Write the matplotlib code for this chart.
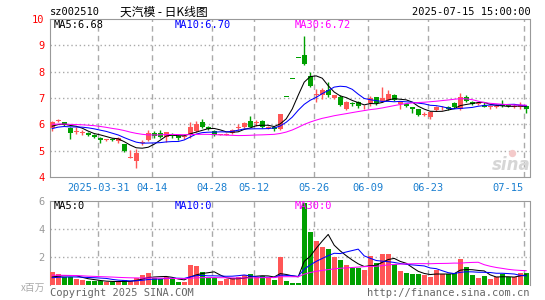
import numpy as np
import pandas as pd
import matplotlib
matplotlib.use("Agg")
from matplotlib import pyplot as plt
from matplotlib.transforms import ScaledTranslation

plt.rcParams['font.family'] = ['DejaVu Sans Mono', 'Noto Sans CJK SC']

# trading days 2025-03-19 .. 2025-07-15
dates = ['03-19', '03-20', '03-21', '03-24', '03-25', '03-26', '03-27', '03-28', '03-31',
         '04-01', '04-02', '04-03', '04-07', '04-08', '04-09', '04-10', '04-11',
         '04-14', '04-15', '04-16', '04-17', '04-18', '04-21', '04-22', '04-23', '04-24', '04-25',
         '04-28', '04-29', '04-30', '05-06', '05-07', '05-08', '05-09',
         '05-12', '05-13', '05-14', '05-15', '05-16', '05-19', '05-20', '05-21', '05-22', '05-23',
         '05-26', '05-27', '05-28', '05-29', '05-30', '06-03', '06-04', '06-05', '06-06',
         '06-09', '06-10', '06-11', '06-12', '06-13', '06-16', '06-17', '06-18', '06-19', '06-20',
         '06-23', '06-24', '06-25', '06-26', '06-27', '06-30', '07-01', '07-02', '07-03', '07-04',
         '07-07', '07-08', '07-09', '07-10', '07-11', '07-14', '07-15']

opens = [5.85, 6.13, 6.08, 5.87, 5.70, 5.66, 5.68, 5.60, 5.50, 5.40, 5.45, 5.36, 5.24, 4.74, 4.62, 5.28, 5.40,
         5.68, 5.68, 5.52, 5.63, 5.55, 5.52, 5.60, 5.74, 6.07, 5.90, 5.75, 5.60, 5.60, 5.66, 5.86, 5.88, 6.13,
         6.06, 6.13, 5.86, 5.90, 5.82, 7.04, 7.74, 8.52, 8.62, 7.83, 7.10, 7.10, 7.30, 7.00, 7.04, 6.60, 6.80,
         6.83, 6.64, 6.80, 7.02, 6.88, 6.92, 7.13, 6.77, 6.77, 6.64, 6.58, 6.37, 6.26, 6.54, 6.58, 6.64, 6.82,
         6.58, 7.05, 6.84, 6.76, 6.72, 6.64, 6.65, 6.78, 6.74, 6.66, 6.64, 6.70]
highs = [6.12, 6.20, 6.10, 5.90, 5.90, 5.78, 5.72, 5.64, 5.52, 5.46, 5.48, 5.52, 5.27, 5.02, 5.05, 5.42, 5.78,
         5.75, 5.78, 5.72, 5.66, 5.58, 5.62, 6.10, 6.12, 6.20, 5.92, 5.77, 5.65, 5.68, 5.82, 6.00, 6.08, 6.30,
         6.15, 6.16, 5.92, 5.92, 6.40, 7.04, 7.74, 8.52, 9.37, 7.99, 7.36, 7.37, 7.60, 7.12, 7.10, 6.87, 6.85,
         6.88, 6.72, 7.08, 7.05, 7.40, 7.30, 7.15, 6.90, 6.80, 6.66, 6.60, 6.45, 6.50, 6.70, 6.68, 6.68, 6.84,
         7.20, 7.10, 6.88, 6.86, 6.86, 6.74, 6.76, 6.92, 6.78, 6.76, 6.86, 6.74]
lows = [5.75, 6.08, 5.95, 5.43, 5.64, 5.60, 5.55, 5.48, 5.28, 5.38, 5.36, 5.30, 4.95, 4.72, 4.34, 5.20, 5.35,
        5.50, 5.50, 5.34, 5.50, 5.42, 5.45, 5.50, 5.70, 5.86, 5.78, 5.56, 5.58, 5.58, 5.64, 5.80, 5.86, 5.88,
        5.95, 5.85, 5.84, 5.76, 5.80, 7.04, 7.74, 8.52, 8.25, 7.42, 6.85, 6.98, 7.03, 6.98, 6.68, 6.55, 6.70,
        6.62, 6.60, 6.70, 6.72, 6.85, 6.90, 6.88, 6.60, 6.64, 6.43, 6.32, 6.30, 6.22, 6.50, 6.55, 6.56, 6.62,
        6.55, 6.85, 6.74, 6.74, 6.64, 6.60, 6.62, 6.66, 6.65, 6.62, 6.60, 6.43]
closes = [6.08, 6.16, 5.98, 5.67, 5.74, 5.72, 5.60, 5.52, 5.42, 5.43, 5.40, 5.48, 4.98, 4.77, 4.92, 5.32, 5.66,
          5.56, 5.53, 5.70, 5.54, 5.50, 5.56, 5.90, 6.02, 5.88, 5.82, 5.60, 5.63, 5.65, 5.80, 5.90, 6.06, 5.90,
          6.08, 5.88, 5.90, 5.82, 6.40, 7.04, 7.74, 8.52, 8.31, 7.46, 7.17, 7.30, 7.10, 7.10, 6.73, 6.85, 6.76,
          6.68, 6.67, 7.00, 6.80, 7.00, 7.15, 6.93, 6.88, 6.69, 6.58, 6.35, 6.39, 6.47, 6.66, 6.60, 6.60, 6.64,
          7.05, 6.88, 6.78, 6.80, 6.66, 6.68, 6.68, 6.70, 6.68, 6.70, 6.72, 6.60]
# volume, millions of shares
volumes = [0.94, 0.78, 0.59, 0.59, 0.43, 0.35, 0.28, 0.28, 0.28, 0.19, 0.24, 0.24, 0.35, 0.28, 0.52, 0.71, 0.83,
           0.52, 0.40, 0.59, 0.40, 0.24, 0.20, 1.42, 1.35, 0.90, 0.52, 0.52, 0.28, 0.40, 0.47, 0.59, 0.71, 0.78,
           0.59, 0.64, 0.52, 0.33, 1.99, 0.28, 0.16, 0.16, 5.87, 3.78, 3.14, 2.72, 2.55, 2.01, 1.77, 1.42, 1.18,
           1.18, 1.06, 2.06, 1.54, 2.25, 2.18, 1.47, 0.99, 0.87, 0.78, 0.78, 0.71, 0.59, 1.06, 0.78, 0.78, 0.83,
           1.84, 1.30, 0.71, 0.52, 0.66, 0.43, 0.54, 0.78, 0.54, 0.54, 0.87, 0.87]

# the 29 sessions before the window, only used to warm up the moving averages
prev_closes = [5.85, 5.95, 6.05, 5.90, 6.00, 6.10, 6.05, 6.30, 6.45, 6.60, 6.50, 6.40, 6.55, 6.35, 6.40,
               6.35, 5.60, 5.40, 5.35, 5.45, 5.60, 5.75, 5.80, 5.78, 5.80, 5.85, 5.90, 5.92, 5.90]
prev_volumes = [0.95, 0.70, 0.85, 0.60, 0.90, 1.10, 0.75, 0.80, 0.65, 0.70, 0.90, 0.85, 0.70, 0.75, 0.90,
                0.80, 0.65, 0.70, 0.80, 0.75, 0.45, 0.50, 0.42, 0.50, 0.48, 0.50, 0.45, 0.52, 0.44]

tick_dates = ['03-31', '04-14', '04-28', '05-12', '05-26', '06-09', '06-23', '07-15']
tick_labels = ['2025-03-31', '04-14', '04-28', '05-12', '05-26', '06-09', '06-23', '07-15']
ma_windows = [5, 10, 30]
ma_colors = ['black', '#0000ff', '#ff00ff']
price_ma_text = ['MA5:6.68', 'MA10:6.70', 'MA30:6.72']
vol_ma_text = ['MA5:0', 'MA10:0', 'MA30:0']

RED = '#ff5656'
GREEN = '#00a000'
GRID = '#aaaaaa'
W, H = 545, 300

n = len(dates)
x = np.arange(n)
o = np.array(opens); c = np.array(closes); hi = np.array(highs); lo = np.array(lows)
up = c > o
cols = [RED if u else GREEN for u in up]

all_c = pd.Series(prev_closes + closes)
all_v = pd.Series(prev_volumes + volumes)
k = len(prev_closes)

fig = plt.figure(figsize=(W / 100, H / 100), dpi=100)
ax1 = fig.add_axes([50 / W, 1 - 177 / H, 479.5 / W, 158 / H])
ax2 = fig.add_axes([50 / W, 1 - 285 / H, 479.5 / W, 84 / H])

vline_pos = [dates.index(d) - 0.35 for d in tick_dates]

# ---- price panel ----
ax1.vlines(x, lo, hi, colors=cols, lw=1, zorder=3)
body = np.maximum(np.abs(c - o), 0.02)
ax1.bar(x, body, bottom=np.minimum(o, c), width=0.8, color=cols, lw=0, zorder=3)
for w, col in zip(ma_windows, ma_colors):
    ma = all_c.rolling(w).mean().values[k:]
    ax1.plot(x, ma, color=col, lw=0.75, zorder=4)

ax1.set_xlim(-0.37, 79.55)
ax1.set_ylim(4, 10)
ax1.set_yticks(range(4, 11))
ax1.set_yticklabels([str(v) for v in range(4, 11)], color='red', fontsize=7.5)
ax1.set_xticks(vline_pos)
ax1.set_xticklabels(tick_labels, color='#1a7fd0', fontsize=7.5)
# last date label is pulled inside the frame, as on the original
last = ax1.get_xticklabels()[-1]
last.set_horizontalalignment('right')
last.set_transform(last.get_transform() + ScaledTranslation(-0.07, 0, fig.dpi_scale_trans))
ax1.tick_params(length=0, pad=4)
for yv in range(5, 10):
    ax1.axhline(yv, color=GRID, lw=1, ls=(0, (1, 2)), zorder=1)
for xv in vline_pos:
    ax1.axvline(xv, color=GRID, lw=1, ls=(0, (4, 3)), zorder=1)
for s in ax1.spines.values():
    s.set_color('#999999')
# faint logo mark above the watermark
ax1.scatter([(512 - 50) / 479.5], [(177 - 153) / 158], transform=ax1.transAxes,
            s=28, color='#f4caca', lw=0, zorder=2)

# ---- volume panel ----
ax2.bar(x, volumes, width=0.78, color=cols, lw=0, zorder=3)
for w, col in zip(ma_windows, ma_colors):
    ma = all_v.rolling(w).mean().values[k:]
    ax2.plot(x, ma, color=col, lw=0.75, zorder=4)
ax2.set_xlim(-0.37, 79.55)
ax2.set_ylim(0, 6)
ax2.set_yticks([2, 4, 6])
ax2.set_yticklabels(['2', '4', '6'], color='#999999', fontsize=7.5)
ax2.set_xticks([])
ax2.tick_params(length=0, pad=4)
for yv in [2, 4]:
    ax2.axhline(yv, color=GRID, lw=1, ls=(0, (1, 2)), zorder=1)
for xv in vline_pos:
    ax2.axvline(xv, color=GRID, lw=1, ls=(0, (4, 3)), zorder=1)
for s in ax2.spines.values():
    s.set_color('#999999')
ax2.spines['bottom'].set_visible(False)


def ftext(px, py, s, **kw):
    fig.text(px / W, 1 - py / H, s, va='center', **kw)


# header texts
ftext(50, 12, 'sz002510', fontsize=7.5, color='black')
ftext(120, 12, '天汽模 - 日K线图', fontsize=8.5, color='black',
      family=['Noto Sans CJK SC', 'DejaVu Sans'])
ftext(531, 12, '2025-07-15 15:00:00', fontsize=7.5, color='black', ha='right')
for px, s, col in zip([54, 175, 295], price_ma_text, ma_colors):
    ftext(px, 25, s, fontsize=7.5, color=col)
for px, s, col in zip([54, 175, 295], vol_ma_text, ma_colors):
    ftext(px, 206, s, fontsize=7.5, color=col)

ftext(45, 288, 'x百万', fontsize=7, color='#aaaaaa', ha='right',
      family=['Noto Sans CJK SC', 'DejaVu Sans'])
ftext(50, 293, 'Copyright 2025 SINA.COM', fontsize=7.5, color='#666666')
ftext(529, 293, 'http://finance.sina.com.cn', fontsize=7.5, color='#666666', ha='right')
ftext(511, 165, 'sina', fontsize=12, color='#d6d6d6', ha='center',
      family='DejaVu Sans', weight='bold', style='italic')

fig.savefig('out.png', dpi=100, facecolor='white')
